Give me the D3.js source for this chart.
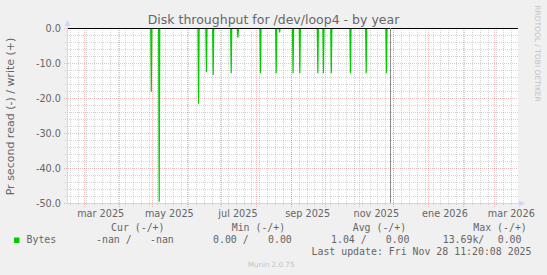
<!DOCTYPE html>
<html>
<head>
<meta charset="utf-8">
<script src="https://cdn.jsdelivr.net/npm/d3@7"></script>
<style>
    body { margin: 0; background: #f0f0f0; }
    svg { display: block; }
    text { font-family: "DejaVu Sans", sans-serif; fill: #666; }
    .mono { font-family: "DejaVu Sans Mono", monospace; }
</style>
</head>
<body>
<div id="chart"></div>
<script>
//==========================================================================================
// Data
//==========================================================================================
var title = "Disk throughput for /dev/loop4 - by year";
var yLabel = "Pr second read (-) / write (+)";
var rangeStart = "2025-02-14T12:00:00Z";
var rangeEnd = "2026-03-21T12:00:00Z";
var lastUpdate = "2025-11-28T11:20:08Z";

var spikeDates = ["2025-04-30", "2025-05-07", "2025-06-11", "2025-06-18", "2025-06-24",
                  "2025-07-10", "2025-07-16", "2025-08-05", "2025-08-19", "2025-08-22",
                  "2025-09-03", "2025-09-09", "2025-09-25", "2025-09-30", "2025-10-07",
                  "2025-10-24", "2025-11-07", "2025-11-25"];
var spikeValues = [-18.1, -49.5, -21.5, -12.4, -13.3,
                   -12.8, -2.6, -12.8, -12.8, -1.1,
                   -12.8, -12.8, -12.8, -12.8, -12.8,
                   -12.8, -12.8, -12.8];

var yDomain = [-50, 0];
var yTickValues = [0, -10, -20, -30, -40, -50];
var xLabelDates = ["2025-03-01", "2025-05-01", "2025-07-01", "2025-09-01", "2025-11-01", "2026-01-01", "2026-03-01"];
var xLabels = ["mar 2025", "may 2025", "jul 2025", "sep 2025", "nov 2025", "ene 2026", "mar 2026"];

var legendHeads = ["Cur (-/+)", "Min (-/+)", "Avg (-/+)", "Max (-/+)"];
var legendName = "Bytes";
var legendCells = ["-nan /", "-nan", "0.00 /", "0.00", "1.04 /", "0.00", "13.69k/", "0.00"];
var updateText = "Last update: Fri Nov 28 11:20:08 2025";
var versionText = "Munin 2.0.75";
var watermark = "RRDTOOL / TOBI OETIKER";

(function() {
    "use strict";

    //--------------------------------------------------------------------------------------
    // Layout
    //--------------------------------------------------------------------------------------
    var W = 547, H = 275;
    var plotLeft = 67, plotRight = 517, plotTop = 28, plotBottom = 203;
    var green = "#00cc00";
    var axisColor = "#cfd6f8";
    var gridColor = "rgba(143,143,143,0.38)";
    var mgridColor = "rgba(222,79,79,0.36)";

    var day = 24 * 3600 * 1000;

    var x = d3.scaleUtc()
        .domain([new Date(rangeStart), new Date(rangeEnd)])
        .range([plotLeft + 0.5, plotRight + 0.5]);

    var y = d3.scaleLinear()
        .domain(yDomain)
        .range([plotBottom + 0.5, plotTop + 0.5]);

    var svg = d3.select("#chart").append("svg")
        .attr("width", W)
        .attr("height", H);

    svg.append("rect").attr("width", W).attr("height", H).attr("fill", "#f0f0f0");
    svg.append("rect")
        .attr("x", plotLeft).attr("y", plotTop)
        .attr("width", plotRight - plotLeft + 1).attr("height", plotBottom - plotTop + 1)
        .attr("fill", "#fff");

    //--------------------------------------------------------------------------------------
    // Grid
    //--------------------------------------------------------------------------------------
    var grid = svg.append("g").attr("stroke-dasharray", "1,1").attr("stroke-width", 1);

    var yMinor = y.ticks(25).filter(function(v) { return v % 10 !== 0; });
    grid.selectAll(".ymin").data(yMinor).enter().append("line")
        .attr("x1", plotLeft - 2).attr("x2", plotRight + 1)
        .attr("y1", function(d) { return y(d); }).attr("y2", function(d) { return y(d); })
        .attr("stroke", gridColor);

    var xMinor = d3.utcMonday.range(x.domain()[0], x.domain()[1]);
    grid.selectAll(".xmin").data(xMinor).enter().append("line")
        .attr("x1", function(d) { return Math.round(x(d)) + 0.5; })
        .attr("x2", function(d) { return Math.round(x(d)) + 0.5; })
        .attr("y1", plotTop).attr("y2", plotBottom + 3)
        .attr("stroke", gridColor);

    grid.selectAll(".ymaj").data(yTickValues).enter().append("line")
        .attr("x1", plotLeft - 3).attr("x2", plotRight + 1)
        .attr("y1", function(d) { return y(d); }).attr("y2", function(d) { return y(d); })
        .attr("stroke", mgridColor);

    var xMajor = d3.utcMonth.range(x.domain()[0], x.domain()[1]);
    grid.selectAll(".xmaj").data(xMajor).enter().append("line")
        .attr("x1", function(d) { return Math.round(x(d)) + 0.5; })
        .attr("x2", function(d) { return Math.round(x(d)) + 0.5; })
        .attr("y1", plotTop).attr("y2", plotBottom + 4)
        .attr("stroke", mgridColor);

    //--------------------------------------------------------------------------------------
    // Data
    //--------------------------------------------------------------------------------------
    var line = d3.line()
        .x(function(d) { return x(d[0]); })
        .y(function(d) { return y(d[1]); });

    svg.append("g").selectAll("path").data(spikeDates).enter().append("path")
        .attr("d", function(d, i) {
            var t = new Date(d + "T00:00:00Z");
            return line([[new Date(+t - day / 2), 0], [t, spikeValues[i]], [new Date(+t + day / 2), 0]]);
        })
        .attr("fill", "none")
        .attr("stroke", green)
        .attr("stroke-width", 1.2);

    // zero line
    svg.append("line")
        .attr("x1", plotLeft).attr("x2", plotRight + 1)
        .attr("y1", y(0)).attr("y2", y(0))
        .attr("stroke", "#000");

    // now line
    var nowX = Math.round(x(new Date(lastUpdate))) + 0.5;
    svg.append("line")
        .attr("x1", nowX).attr("x2", nowX)
        .attr("y1", plotTop).attr("y2", plotBottom)
        .attr("stroke", "#8c8c8c");

    //--------------------------------------------------------------------------------------
    // Axes
    //--------------------------------------------------------------------------------------
    svg.append("line")
        .attr("x1", plotLeft + 0.5).attr("x2", plotLeft + 0.5)
        .attr("y1", plotBottom + 0.5).attr("y2", plotTop - 5)
        .attr("stroke", axisColor);
    svg.append("path")
        .attr("d", "M" + (plotLeft - 2.5) + "," + (plotTop - 2) + "L" + (plotLeft + 3.5) + "," + (plotTop - 2) +
                   "L" + (plotLeft + 0.5) + "," + (plotTop - 8) + "Z")
        .attr("fill", axisColor);
    svg.append("line")
        .attr("x1", plotLeft).attr("x2", plotRight + 4)
        .attr("y1", plotBottom + 0.5).attr("y2", plotBottom + 0.5)
        .attr("stroke", axisColor);
    svg.append("path")
        .attr("d", "M" + (plotRight + 2) + "," + (plotBottom - 2.5) + "L" + (plotRight + 2) + "," + (plotBottom + 3.5) +
                   "L" + (plotRight + 8) + "," + (plotBottom + 0.5) + "Z")
        .attr("fill", axisColor);

    svg.append("g").selectAll("text").data(yTickValues).enter().append("text")
        .attr("x", plotLeft - 6)
        .attr("y", function(d) { return y(d) + 3.5; })
        .attr("text-anchor", "end")
        .style("font-size", "9.7px")
        .text(function(d) { return d3.format(".1f")(d).replace("\u2212", "-"); });

    svg.append("g").selectAll("text").data(xLabelDates).enter().append("text")
        .attr("x", function(d) { return x(new Date(+new Date(d + "T00:00:00Z") + 15 * day)); })
        .attr("y", plotBottom + 13.5)
        .attr("text-anchor", "middle")
        .style("font-size", "9.7px")
        .text(function(d, i) { return xLabels[i]; });

    //--------------------------------------------------------------------------------------
    // Titles
    //--------------------------------------------------------------------------------------
    svg.append("text")
        .attr("x", W / 2).attr("y", 23.5)
        .attr("text-anchor", "middle")
        .style("font-size", "12.5px")
        .text(title);

    svg.append("text")
        .attr("transform", "translate(14,116.5) rotate(-90)")
        .attr("text-anchor", "middle")
        .style("font-size", "11px")
        .text(yLabel);

    svg.append("text")
        .attr("transform", "translate(535,53.5) rotate(90)")
        .attr("text-anchor", "middle")
        .style("font-size", "7.5px")
        .style("fill", "#c4c4c4")
        .text(watermark);

    //--------------------------------------------------------------------------------------
    // Legend
    //--------------------------------------------------------------------------------------
    var headX = [111, 231.7, 352.7, 473.3];
    var cellX = [96, 150, 213, 268, 331, 385.7, 442.7, 497.7];
    var legend = svg.append("g").style("font-size", "9.9px");

    legend.selectAll(".head").data(legendHeads).enter().append("text")
        .attr("class", "mono")
        .attr("x", function(d, i) { return headX[i]; })
        .attr("y", 230.5)
        .text(function(d) { return d; });

    legend.append("rect")
        .attr("x", 14).attr("y", 237.5).attr("width", 5.5).attr("height", 5.5)
        .attr("fill", green);
    legend.append("text").attr("class", "mono")
        .attr("x", 26.5).attr("y", 242.5)
        .text(legendName);

    legend.selectAll(".cell").data(legendCells).enter().append("text")
        .attr("class", "mono")
        .attr("x", function(d, i) { return cellX[i]; })
        .attr("y", 242.5)
        .text(function(d) { return d; });

    legend.append("text").attr("class", "mono")
        .attr("x", 311.5).attr("y", 254.5)
        .text(updateText);

    svg.append("text")
        .attr("x", 248).attr("y", 266.5)
        .style("font-size", "7.1px")
        .style("fill", "#c4c4c4")
        .text(versionText);
})();
</script>
</body>
</html>
